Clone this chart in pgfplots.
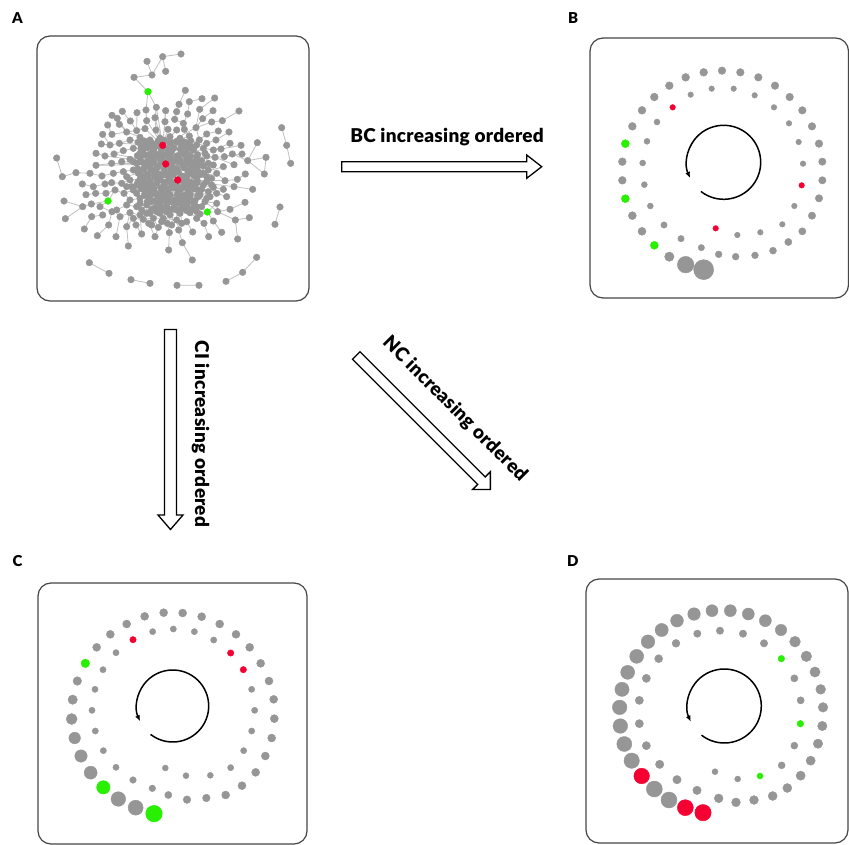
\documentclass[border=0pt]{standalone}
\usepackage{fontspec}
\setmainfont{Lato}
\newfontfamily\heavy{Lato Black}
\usepackage{pgfplots}
\pgfplotsset{compat=1.18}
\usetikzlibrary{arrows.meta}
\definecolor{ngray}{RGB}{150,150,150}
\definecolor{nred}{RGB}{245,0,50}
\definecolor{ngreen}{RGB}{40,240,0}
\definecolor{egray}{RGB}{192,192,192}
\definecolor{boxc}{RGB}{70,70,70}
\pgfplotsset{
 panel/.style={scale only axis, hide axis, clip=false, y dir=reverse, anchor=north west, xmin=0, ymin=0},
 dots/.style={scatter, only marks, mark=*, scatter/use mapped color={draw=#1,fill=#1},
   visualization depends on={value \thisrow{r} \as \rr},
   scatter/@pre marker code/.append style={/tikz/mark size=\rr}},
}
\begin{document}
\begin{tikzpicture}
\path[clip, use as bounding box] (0,0) rectangle (849pt,-845pt);
\fill[white] (0,0) rectangle (849pt,-845pt);
\begin{scope}[x=1pt,y=-1pt]
\draw[boxc, line width=1.2pt, rounded corners=13pt] (37,36) rectangle (309,301);
\draw[boxc, line width=1.2pt, rounded corners=13pt] (590,38) rectangle (848.5,298);
\draw[boxc, line width=1.2pt, rounded corners=13pt] (38,583) rectangle (307,844);
\draw[boxc, line width=1.2pt, rounded corners=13pt] (586,579) rectangle (848,843);
\end{scope}

% ---------- Panel A: network ----------
\begin{axis}[panel, at={(30pt,-30pt)}, width=290pt, height=280pt, xmax=870, ymax=840]
\addplot[egray, line width=0.8pt] coordinates {
(398,346) (350,272) (398,346) (375,263) (398,346) (405,275) (398,346) (345,296) (398,346) (378,300)
(398,346) (414,298) (398,346) (440,300) (398,346) (360,330) (398,346) (390,325) (398,346) (420,320)
(398,346) (450,325) (398,346) (330,322) (398,346) (300,330) (398,346) (310,355) (398,346) (340,358)
(398,346) (370,360) (398,346) (430,355) (398,346) (460,350) (398,346) (478,318) (398,346) (350,340)
(398,346) (380,345) (398,346) (420,340) (398,346) (440,335) (398,346) (470,340) (398,346) (379,232)
(398,346) (407,242) (398,346) (335,350) (398,346) (365,345) (398,346) (455,345) (398,346) (485,350)
(398,346) (330,370) (398,346) (268,340) (398,346) (290,306) (398,346) (498,293) (398,346)
};
\addplot[egray, line width=0.8pt] coordinates {
(407,402) (398,346) (407,402) (330,385) (407,402) (360,390) (407,402) (440,380) (407,402) (470,385)
(407,402) (500,380) (407,402) (345,375) (407,402) (375,380) (407,402) (400,375) (407,402) (420,385)
(407,402) (455,365) (407,402) (485,395) (407,402) (350,405) (407,402) (385,410) (407,402) (430,415)
(407,402) (460,410) (407,402) (340,418) (407,402) (370,422) (407,402) (310,420) (407,402) (280,425)
(407,402) (275,395) (407,402) (300,388) (407,402) (250,430) (407,402) (245,400) (407,402) (490,412)
(407,402) (520,408) (407,402) (490,360) (407,402) (520,355) (407,402) (355,435) (407,402) (385,432)
(407,402) (225,378) (407,402) (530,378) (407,402) (320,400) (407,402) (365,400) (407,402) (450,390)
(407,402) (505,405) (407,402) (535,400) (407,402) (325,430) (407,402) (290,440) (407,402) (198,406)
(407,402) (252,372) (407,402) (555,382) (407,402)
};
\addplot[egray, line width=0.8pt] coordinates {
(443,450) (407,402) (443,450) (415,430) (443,450) (445,425) (443,450) (475,425) (443,450) (505,425)
(443,450) (535,420) (443,450) (470,440) (443,450) (500,445) (443,450) (530,440) (443,450) (560,430)
(443,450) (390,448) (443,450) (420,446) (443,450) (410,455) (443,450) (440,460) (443,450) (470,455)
(443,450) (500,460) (443,450) (530,455) (443,450) (400,470) (443,450) (430,470) (443,450) (460,470)
(443,450) (490,475) (443,450) (520,465) (443,450) (550,472) (443,450) (415,480) (443,450) (445,485)
(443,450) (475,488) (443,450) (505,480) (443,450) (535,485) (443,450) (420,495) (443,450) (450,498)
(443,450) (480,500) (443,450) (510,495) (443,450) (540,500) (443,450) (560,490) (443,450) (590,500)
(443,450) (580,478) (443,450) (550,405) (443,450) (580,410) (443,450) (405,510) (443,450) (435,510)
(443,450) (465,512) (443,450) (495,512) (443,450) (525,515) (443,450) (440,520) (443,450) (470,525)
(443,450) (500,530) (443,450) (410,525) (443,450) (425,538) (443,450) (455,538) (443,450) (485,538)
(443,450) (450,550) (443,450) (480,548) (443,450) (440,570) (443,450) (360,452) (443,450) (330,448)
(443,450) (350,462) (443,450) (380,460) (443,450) (370,475) (443,450) (612,470) (443,450) (305,470)
(443,450) (335,465) (443,450) (355,480) (443,450) (385,500) (443,450) (330,520) (443,450) (355,510)
(443,450) (385,520) (443,450) (350,550) (443,450) (380,545) (443,450) (410,545) (443,450) (470,542)
(443,450) (500,545) (443,450) (395,575) (443,450) (425,585) (443,450) (455,580) (443,450) (365,585)
(443,450) (290,470) (443,450) (585,452) (443,450) (563,545) (443,450)
};
\addplot[egray, line width=0.8pt, unbounded coords=jump] coordinates {
(453,72) (398,80) (nan,nan) (398,80) (366,135) (nan,nan) (351,94) (366,135) (nan,nan) (407,124) (398,80) (nan,nan)
(312,142) (366,135) (nan,nan) (312,142) (354,185) (nan,nan) (354,185) (379,232) (nan,nan) (354,185) (348,240) (nan,nan)
(466,181) (447,223) (nan,nan) (516,206) (478,215) (nan,nan) (554,204) (509,238) (nan,nan) (478,215) (473,252) (nan,nan)
(447,223) (440,245) (nan,nan) (379,232) (375,263) (nan,nan) (348,240) (350,272) (nan,nan) (407,242) (405,275) (nan,nan)
(440,245) (434,268) (nan,nan) (509,238) (498,293) (nan,nan) (549,242) (518,266) (nan,nan) (627,243) (577,272) (nan,nan)
(577,272) (545,276) (nan,nan) (277,244) (301,273) (nan,nan) (246,256) (268,283) (nan,nan) (321,248) (320,302) (nan,nan)
(262,265) (290,306) (nan,nan) (233,285) (246,313) (nan,nan) (545,276) (498,293) (nan,nan) (597,306) (558,330) (nan,nan)
(565,303) (530,312) (nan,nan) (218,313) (240,345) (nan,nan) (682,338) (653,392) (nan,nan) (653,392) (708,382) (nan,nan)
(708,382) (703,432) (nan,nan) (703,432) (653,392) (nan,nan) (653,392) (607,372) (nan,nan) (633,346) (573,357) (nan,nan)
(600,340) (550,360) (nan,nan) (636,372) (583,380) (nan,nan) (80,384) (97,440) (nan,nan) (97,440) (138,428) (nan,nan)
(138,428) (180,430) (nan,nan) (198,370) (225,378) (nan,nan) (198,406) (245,400) (nan,nan) (216,438) (250,430) (nan,nan)
(612,404) (555,382) (nan,nan) (646,432) (622,448) (nan,nan) (622,448) (585,452) (nan,nan) (157,462) (190,470) (nan,nan)
(190,470) (225,462) (nan,nan) (668,478) (612,470) (nan,nan) (168,494) (197,490) (nan,nan) (197,490) (228,490) (nan,nan)
(102,513) (158,530) (nan,nan) (158,530) (184,522) (nan,nan) (184,522) (234,513) (nan,nan) (234,513) (255,480) (nan,nan)
(234,513) (210,530) (nan,nan) (645,517) (600,538) (nan,nan) (600,538) (563,545) (nan,nan) (106,566) (158,530) (nan,nan)
(185,560) (218,555) (nan,nan) (163,597) (185,560) (nan,nan) (202,617) (236,585) (nan,nan) (236,585) (246,545) (nan,nan)
(258,620) (270,560) (nan,nan) (290,590) (300,548) (nan,nan) (295,648) (290,590) (nan,nan) (335,612) (330,555) (nan,nan)
(375,620) (356,580) (nan,nan) (416,660) (418,608) (nan,nan) (457,638) (446,600) (nan,nan) (487,690) (457,638) (nan,nan)
(536,620) (522,580) (nan,nan) (575,607) (550,573) (nan,nan) (623,627) (616,570) (nan,nan) (616,570) (563,545) (nan,nan)
(658,563) (616,570) (nan,nan) (532,546) (510,552) (nan,nan) (532,546) (560,520) (nan,nan) (532,546) (550,573) (nan,nan)
(178,698) (237,730) (nan,nan) (303,749) (360,760) (nan,nan) (441,766) (507,766) (nan,nan) (588,754) (638,727) (nan,nan)
(638,727) (680,682) (nan,nan) (755,293) (770,346) (nan,nan) (770,346) (782,400) (nan,nan) (750,531) (735,583) (nan,nan)
(412,580) (418,608) (nan,nan) (385,592) (375,620) (nan,nan) (470,575) (488,606) (nan,nan) (318,585) (335,612) (nan,nan)
(330,448) (360,452) (nan,nan) (300,450) (330,448) (nan,nan) (275,460) (300,450) (nan,nan) (245,458) (275,460) (nan,nan)
(255,480) (282,490) (nan,nan) (282,490) (310,480) (nan,nan) (310,480) (340,478) (nan,nan) (340,478) (370,475) (nan,nan)
(370,475) (400,470) (nan,nan) (320,465) (350,462) (nan,nan) (300,510) (330,505) (nan,nan) (330,505) (360,500) (nan,nan)
(360,500) (390,498) (nan,nan) (345,490) (375,488) (nan,nan) (375,488) (405,510) (nan,nan) (260,540) (290,525) (nan,nan)
(290,525) (320,530) (nan,nan) (320,530) (350,525) (nan,nan) (350,525) (380,530) (nan,nan) (380,530) (410,525) (nan,nan)
(365,515) (405,510) (nan,nan) (335,540) (365,538) (nan,nan) (365,538) (395,540) (nan,nan) (395,540) (425,538) (nan,nan)
(300,548) (330,555) (nan,nan) (330,555) (360,550) (nan,nan) (360,550) (390,550) (nan,nan) (390,550) (420,555) (nan,nan)
(340,568) (370,565) (nan,nan) (370,565) (400,565) (nan,nan) (400,565) (440,570) (nan,nan) (310,565) (340,568) (nan,nan)
(356,580) (370,565) (nan,nan) (412,580) (400,565) (nan,nan) (446,600) (440,570) (nan,nan) (470,575) (440,570) (nan,nan)
(500,565) (480,548) (nan,nan) (522,580) (500,565) (nan,nan) (290,590) (310,565) (nan,nan) (318,585) (310,565) (nan,nan)
(385,592) (370,565) (nan,nan) (270,560) (300,548) (nan,nan) (246,545) (260,540) (nan,nan) (210,530) (246,545) (nan,nan)
(228,490) (255,480) (nan,nan) (225,462) (245,458) (nan,nan) (180,430) (216,438) (nan,nan) (252,372) (280,362) (nan,nan)
(280,362) (310,355) (nan,nan) (240,345) (268,340) (nan,nan) (268,340) (300,330) (nan,nan) (214,342) (240,345) (nan,nan)
(246,313) (290,306) (nan,nan) (290,306) (320,302) (nan,nan) (320,302) (345,296) (nan,nan) (268,283) (290,306) (nan,nan)
(301,273) (320,302) (nan,nan) (460,280) (463,298) (nan,nan) (463,298) (478,318) (nan,nan) (498,293) (508,330) (nan,nan)
(530,312) (508,330) (nan,nan) (508,330) (470,340) (nan,nan) (530,340) (500,345) (nan,nan) (558,330) (530,340) (nan,nan)
(550,360) (520,355) (nan,nan) (573,357) (550,360) (nan,nan) (607,372) (583,380) (nan,nan) (583,380) (555,382) (nan,nan)
(555,382) (530,378) (nan,nan) (585,452) (560,430) (nan,nan) (563,545) (560,520) (nan,nan) (560,520) (525,515) (nan,nan)
(510,552) (485,538) (nan,nan) (355,435) (330,448) (nan,nan) (385,432) (390,448) (nan,nan) (345,490) (330,505) (nan,nan)
(300,510) (282,490) (nan,nan) (434,268) (460,280) (nan,nan) (473,252) (460,280) (nan,nan) (518,266) (498,293) (nan,nan)
(350,272) (345,296) (nan,nan) (375,263) (378,300)
};
\addplot[only marks, mark=*, mark size=3.3, color=ngray] coordinates {
(453,72) (398,80) (351,94) (407,124) (366,135) (312,142)
(466,181) (516,206) (554,204) (478,215) (447,223) (379,232) (348,240) (407,242) (440,245) (509,238) (549,242) (627,243) (277,244) (246,256) (321,248)
(473,252) (518,266) (577,272) (545,276) (301,273) (268,283) (233,285) (262,265) (350,272) (375,263) (405,275) (434,268) (460,280) (498,293) (463,298) (597,306) (530,312) (565,303)
(218,313) (246,313) (290,306) (320,302) (345,296) (378,300) (414,298) (440,300) (558,330) (600,340) (633,346) (682,338) (214,342) (240,345) (268,340) (300,330) (330,322) (360,330) (390,325) (420,320) (450,325) (478,318) (508,330) (530,340)
(198,370) (225,378) (252,372) (280,362) (310,355) (340,358) (370,360) (430,355) (460,350) (490,360) (520,355) (550,360) (573,357) (607,372) (636,372) (653,392) (708,382) (80,384) (245,400) (275,395) (300,388) (330,385) (360,390) (440,380) (470,385) (500,380) (530,378) (555,382) (583,380)
(138,428) (180,430) (198,406) (216,438) (250,430) (280,425) (310,420) (340,418) (370,422) (430,415) (460,410) (490,412) (520,408) (550,405) (580,410) (612,404) (646,432) (703,432) (97,440) (245,458) (275,460) (300,450) (330,448) (360,452) (390,448) (420,446) (470,440) (500,445) (530,440) (560,430) (585,452) (622,448)
(157,462) (190,470) (225,462) (255,480) (282,490) (310,480) (340,478) (370,475) (400,470) (430,470) (460,470) (490,475) (520,465) (550,472) (580,478) (612,470) (668,478) (168,494) (197,490) (228,490) (300,510) (330,505) (360,500) (390,498) (420,495) (450,498) (480,500) (510,495) (540,500) (560,490) (590,500)
(102,513) (158,530) (184,522) (210,530) (260,540) (290,525) (320,530) (350,525) (380,530) (410,525) (440,520) (470,525) (500,530) (560,520) (600,538) (645,517) (185,560) (218,555) (246,545) (270,560) (300,548) (330,555) (360,550) (390,550) (420,555) (450,550) (480,548) (510,552) (563,545) (616,570) (658,563)
(106,566) (163,597) (202,617) (236,585) (258,620) (290,590) (318,585) (335,612) (356,580) (375,620) (385,592) (412,580) (418,608) (446,600) (470,575) (488,606) (522,580) (550,573) (575,607) (536,620) (623,627)
(295,648) (416,660) (457,638) (487,690)
(178,698) (237,730) (303,749) (360,760) (441,766) (507,766) (588,754) (638,727) (680,682)
(755,293) (770,346) (782,400) (750,531) (735,583)
(350,340) (380,345) (420,340) (440,335) (470,340) (500,345) (345,375) (375,380) (400,375) (420,385) (455,365) (485,395) (515,392) (350,405) (385,410) (415,430) (445,425) (475,425) (505,425) (535,420) (355,435) (385,432) (410,455) (440,460) (470,455) (500,460) (530,455) (320,465) (350,462) (380,460) (415,480) (445,485) (475,488) (505,480) (535,485) (345,490) (375,488) (405,510) (435,510) (465,512) (495,512) (525,515) (365,515) (335,540) (365,538) (395,540) (425,538) (455,538) (485,538) (440,570) (400,565) (370,565) (340,568) (310,565) (500,565)
(335,350) (365,345) (395,360) (425,365) (455,345) (485,350) (330,370) (360,372) (390,385) (415,370) (445,395) (470,370) (500,395) (525,370) (320,400) (365,400) (395,395) (425,400) (450,390) (475,400) (505,405) (535,400) (325,430) (345,445) (375,440) (400,435) (430,430) (460,440) (490,430) (520,430) (545,445) (305,470) (335,465) (365,470) (395,485) (425,460) (455,475) (485,462) (515,478) (545,465) (320,490) (355,480) (385,500) (415,500) (445,515) (475,498) (505,500) (530,505) (330,520) (355,510) (385,520) (420,515) (455,525) (490,520) (515,530) (350,550) (380,545) (410,545) (440,540) (470,542) (500,545) (365,585) (395,575) (425,585) (455,580) (310,395) (290,440) (290,470)
(324,337) (343,333) (364,338) (384,334) (403,331) (423,337) (444,333) (463,336) (482,332)
(333,356) (352,353) (371,357) (391,352) (413,357) (432,354) (451,358) (473,355) (492,353)
(322,377) (341,374) (363,378) (383,373) (402,378) (421,374) (443,377) (462,373) (481,377) (503,374)
(334,396) (353,393) (372,397) (393,392) (411,396) (433,393) (452,397) (471,394) (493,396)
(323,416) (343,413) (362,417) (381,414) (403,418) (422,413) (441,416) (463,414) (482,417) (501,414)
(333,436) (351,433) (373,437) (392,434) (414,437) (431,433) (453,437) (472,434) (491,436) (513,433)
(324,456) (342,453) (361,457) (383,454) (402,457) (421,453) (442,456) (461,454) (483,457) (502,453)
(333,476) (353,473) (371,477) (392,474) (412,476) (433,473) (451,477) (472,474) (493,476)
(343,496) (361,493) (382,497) (403,494) (421,497) (442,493) (463,496) (481,494) (503,497)
(352,516) (373,513) (391,517) (413,514) (432,517) (451,513) (473,516) (492,514)
(373,535) (392,532) (413,536) (431,533) (453,536) (472,532)
};
\addplot[only marks, mark=*, mark size=3.4, color=nred] coordinates {(398,346) (407,402) (443,450)};
\addplot[only marks, mark=*, mark size=3.4, color=ngreen] coordinates {(354,185) (234,513) (532,546)};
\end{axis}

% ---------- Panel B ----------
\begin{axis}[panel, at={(585pt,-30pt)}, width=260pt, height=275pt, xmax=780, ymax=825]
\addplot[dots=ngray] table {
x y r
411 122 3.8
466 127 3.8
520 142 3.8
570 167 3.8
614 201 3.8
652 241 3.8
681 289 3.8
702 341 3.8
712 395 3.7
712 451 3.7
702 505 3.7
681 557 3.7
652 604 3.6
610 636 3.6
564 662 3.5
510 676 3.4
452 680 3.4
401 673 3.4
356 719 10
302 704 8.3
253 680 4.7
171 604 4.0
142 557 4.0
112 451 3.9
112 395 3.9
142 289 3.9
171 241 3.9
208 201 3.9
253 167 3.9
302 142 3.9
356 127 3.9
317 194 2.8
380 176 2.8
446 176 2.8
509 196 2.8
567 232 2.8
612 280 2.8
641 336 2.8
654 401 2.8
628 528 2.8
592 583 2.8
526 607 2.8
457 615 2.8
349 653 3.2
288 626 3.2
237 585 3.2
196 528 3.0
178 464 3.0
173 399 3.0
186 334 3.0
216 276 3.0
};
\addplot[dots=ngreen] table {
x y r
208 646 4.0
121 506 4.0
121 341 4.0
};
\addplot[dots=nred] table {
x y r
650 466 2.8
392 595 2.8
263 232 2.8
};
\end{axis}

% ---------- Panel C ----------
\begin{axis}[panel, at={(30pt,-575pt)}, width=260pt, height=270pt, xmax=780, ymax=810]
\addplot[dots=ngray] table {
x y r
401 113 4.0
458 114 4.0
515 125 4.0
569 147 4.0
618 178 4.0
659 217 4.0
692 265 4.0
717 318 4.0
731 373 4.0
733 431 4.0
725 489 4.0
706 543 4.0
677 592 4.0
636 632 4.0
587 660 4.0
529 669 3.8
471 674 3.8
415 660 3.6
344 124 4.0
290 147 4.0
241 178 4.0
200 217 4.0
142 318 4.3
128 374 4.7
125 432 5.5
134 489 5.8
153 543 6.2
182 593 6.5
265 672 7.3
317 698 7.5
367 640 3.3
309 615 3.3
258 577 3.1
220 527 3.1
196 468 3.1
186 406 3.1
195 343 3.1
219 284 3.1
258 233 3.1
368 170 3.1
430 162 3.1
493 170 3.1
551 195 3.1
665 343 3.1
674 406 3.1
665 468 3.1
641 527 3.1
602 578 3.1
541 601 3.0
468 602 3.0
406 579 3.0
};
\addplot[dots=ngreen] table {
x y r
166 265 4.3
220 637 6.7
372 716 8.3
};
\addplot[dots=nred] table {
x y r
309 194 3.2
602 234 3.2
640 284 3.2
};
\end{axis}

% ---------- Panel D ----------
\begin{axis}[panel, at={(580pt,-570pt)}, width=269pt, height=275pt, xmax=807, ymax=825]
\addplot[dots=ngray] table {
x y r
396 122 6.0
451 122 6.0
505 132 6.0
556 152 6.0
603 180 5.7
645 215 5.4
679 259 5.3
705 306 5.1
722 358 4.9
729 412 4.8
727 468 4.7
714 521 4.7
692 572 4.6
662 617 4.6
622 654 4.5
578 678 4.5
522 690 4.4
468 697 4.4
416 685 4.4
267 690 8.0
223 657 8.0
155 572 7.7
133 522 7.5
121 468 7.3
119 412 7.3
126 358 7.1
143 307 7.0
170 259 7.0
204 215 6.8
245 180 6.6
291 152 6.4
342 132 6.3
352 191 3.7
420 182 3.7
489 191 3.7
552 220 3.7
643 325 3.6
662 391 3.6
643 527 3.5
605 586 3.5
473 627 3.0
405 605 3.0
351 661 4.2
291 629 4.2
239 583 4.2
199 527 4.1
178 461 4.1
178 391 4.1
199 325 4.1
236 266 4.0
288 220 3.9
};
\addplot[dots=nred] table {
x y r
369 728 8.2
316 713 8.0
185 618 7.8
};
\addplot[dots=ngreen] table {
x y r
604 266 3.3
661 461 3.3
540 618 3.0
};
\end{axis}

% ---------- decorations ----------
\begin{scope}[x=1pt,y=-1pt]
\tikzset{lbl/.style={font=\fontsize{15}{18}\selectfont\heavy, inner sep=0pt, anchor=base west}}
\node[lbl] at (12,23.5) {A};
\node[lbl] at (568,23.5) {B};
\node[lbl] at (12.5,566) {C};
\node[lbl] at (567,566) {D};
\tikzset{big/.style={font=\fontsize{19}{22}\selectfont\heavy\addfontfeature{LetterSpace=1.5}, inner sep=0pt, anchor=base}}
\node[big] at (447,142.3) {BC increasing ordered};
\node[big, rotate=-90] at (195,434) {CI increasing ordered};
\node[big, rotate=-45] at (451,413) {NC increasing ordered};
% open arrows
\draw[line width=1.3pt, fill=white, line join=miter] (341.7,161.7) -- (526.7,161.7) -- (526.7,155) -- (541.7,166.7) -- (526.7,178.3) -- (526.7,171.7) -- (341.7,171.7) -- cycle;
\draw[line width=1.3pt, fill=white, line join=miter] (164.5,329.5) -- (164.5,515) -- (158,515) -- (170.5,529.5) -- (183,515) -- (176.5,515) -- (176.5,329.5) -- cycle;
\begin{scope}[shift={(356.3,355.5)}, rotate=-45]
\draw[line width=1.3pt, fill=white, line join=miter] (0,-5.3) -- (177,-5.3) -- (177,-12.6) -- (189.6,0) -- (177,12.6) -- (177,5.3) -- (0,5.3) -- cycle;
\end{scope}
% circular arrows
\draw[line width=1.5pt, -{Latex[length=6pt,width=5pt]}] (723.7,162.3) ++(-232:37) arc[start angle=-232, end angle=-565, radius=37];
\draw[line width=1.5pt, -{Latex[length=6pt,width=5pt]}] (172.7,706) ++(-232:36) arc[start angle=-232, end angle=-565, radius=36];
\draw[line width=1.5pt, -{Latex[length=6pt,width=5pt]}] (724.3,706) ++(-232:37) arc[start angle=-232, end angle=-565, radius=37];
\end{scope}
\end{tikzpicture}
\end{document}
